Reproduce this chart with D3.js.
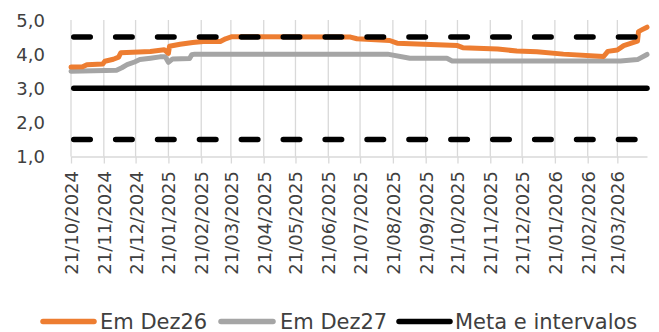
<!DOCTYPE html>
<html>
<head>
<meta charset="utf-8">
<script src="https://cdn.jsdelivr.net/npm/d3@7"></script>
<style>
  html, body { margin: 0; padding: 0; background: #fff; }
  svg { display: block; }
  text { font-family: "DejaVu Sans", sans-serif; fill: #404040; }
</style>
</head>
<body>
<svg id="chart" width="659" height="332"></svg>
<script>
// ---- Data ----
const tickLabels = ["21/10/2024","21/11/2024","21/12/2024","21/01/2025","21/02/2025","21/03/2025",
  "21/04/2025","21/05/2025","21/06/2025","21/07/2025","21/08/2025","21/09/2025","21/10/2025",
  "21/11/2025","21/12/2025","21/01/2026","21/02/2026","21/03/2026"];
const yTicks = [1, 2, 3, 4, 5];

const dez26Dates = ["2024-10-21","2024-11-01","2024-11-05","2024-11-20","2024-11-22","2024-11-30",
  "2024-12-05","2024-12-07","2025-01-04","2025-01-17","2025-01-21","2025-01-22","2025-02-01",
  "2025-02-13","2025-02-23","2025-03-11","2025-03-16","2025-03-22","2025-07-12","2025-07-18",
  "2025-08-18","2025-08-25","2025-10-21","2025-10-26","2025-11-28","2025-12-16","2026-01-04",
  "2026-01-29","2026-03-08","2026-03-12","2026-03-21","2026-03-27","2026-04-09","2026-04-10",
  "2026-04-13","2026-04-18"];
const dez26Values = [3.62,3.63,3.69,3.71,3.79,3.85,3.91,4.04,4.08,4.13,4.02,4.23,4.29,4.34,4.37,
  4.37,4.45,4.51,4.50,4.45,4.40,4.32,4.25,4.19,4.15,4.09,4.07,4.00,3.93,4.08,4.12,4.25,4.38,4.66,
  4.71,4.79];

const dez27Dates = ["2024-10-21","2024-12-03","2024-12-08","2024-12-13","2024-12-20","2024-12-25",
  "2025-01-04","2025-01-13","2025-01-18","2025-01-21","2025-01-25","2025-02-10","2025-02-12",
  "2025-02-15","2025-08-16","2025-09-06","2025-10-11","2025-10-16","2026-03-24","2026-04-09",
  "2026-04-18"];
const dez27Values = [3.50,3.53,3.60,3.69,3.77,3.84,3.88,3.92,3.92,3.76,3.86,3.87,3.98,4.00,4.00,
  3.88,3.88,3.80,3.80,3.84,3.99];

const metaCenter = 3.0;
const metaBands = [4.5, 1.5];
const domainStart = "2024-10-21";
const domainEnd = "2026-04-18";

const seriesNames = ["Em Dez26", "Em Dez27", "Meta e intervalos"];
const colors = ["#ED7D31", "#A5A5A5", "#000000"];

// ---- Layout ----
const svg = d3.select("#chart");
const mLeft = 71, mRight = 647, mTop = 20, mBottom = 156.5;
const parseISO = d3.timeParse("%Y-%m-%d");
const parseBR = d3.timeParse("%d/%m/%Y");
const fmtBR = d3.timeFormat("%d/%m/%Y");

const x = d3.scaleTime().domain([parseISO(domainStart), parseISO(domainEnd)]).range([mLeft, mRight]);
const y = d3.scaleLinear().domain([1, 5]).range([mBottom, mTop]);

const tickDates = tickLabels.map(parseBR);

// vertical gridlines
svg.append("g").selectAll("line").data(tickDates).join("line")
  .attr("x1", d => x(d)).attr("x2", d => x(d))
  .attr("y1", mTop).attr("y2", mBottom)
  .attr("stroke", "#d9d9d9").attr("stroke-width", 1.3);

// x axis
const xAxis = d3.axisBottom(x).tickValues(tickDates).tickFormat(fmtBR).tickSizeInner(7).tickSizeOuter(0);
const gx = svg.append("g").attr("transform", `translate(0,${mBottom})`).call(xAxis);
gx.select(".domain").attr("stroke", "#d9d9d9").attr("stroke-width", 1.3);
gx.selectAll(".tick line").attr("stroke", "#d9d9d9").attr("stroke-width", 1.3);
gx.selectAll(".tick text")
  .attr("font-size", 18)
  .attr("font-family", "DejaVu Sans")
  .attr("fill", "#404040")
  .attr("transform", "rotate(-90)")
  .attr("text-anchor", "end")
  .attr("x", -14.5)
  .attr("y", 0)
  .attr("dy", "0.36em");

// y axis labels
const yAxis = d3.axisLeft(y).tickValues(yTicks).tickFormat(d => d3.format(".1f")(d).replace(".", ",")).tickSize(0);
const gy = svg.append("g").attr("transform", `translate(45,0)`).call(yAxis);
gy.select(".domain").remove();
gy.selectAll(".tick text").attr("font-size", 18).attr("font-family", "DejaVu Sans")
  .attr("fill", "#404040").attr("x", 0).attr("dy", "0.36em");

// meta lines
svg.append("line")
  .attr("x1", x.range()[0] + 2.75).attr("x2", x.range()[1])
  .attr("y1", y(metaCenter)).attr("y2", y(metaCenter))
  .attr("stroke", colors[2]).attr("stroke-width", 5.5).attr("stroke-linecap", "round");

// series lines
const line = d3.line().x(d => x(d[0])).y(d => y(d[1]));
function pts(dates, vals) { return dates.map((d, i) => [parseISO(d), vals[i]]); }

svg.append("path").datum(pts(dez27Dates, dez27Values))
  .attr("d", line).attr("fill", "none").attr("stroke", colors[1])
  .attr("stroke-width", 5).attr("stroke-linejoin", "round").attr("stroke-linecap", "round");
svg.append("path").datum(pts(dez26Dates, dez26Values))
  .attr("d", line).attr("fill", "none").attr("stroke", colors[0])
  .attr("stroke-width", 5).attr("stroke-linejoin", "round").attr("stroke-linecap", "round");

svg.append("g").selectAll("line").data(metaBands).join("line")
  .attr("x1", x.range()[0]).attr("x2", x.range()[1])
  .attr("y1", d => y(d)).attr("y2", d => y(d))
  .attr("stroke", colors[2]).attr("stroke-width", 5.5).attr("stroke-linecap", "round")
  .attr("stroke-dasharray", "16.5,25.4").attr("stroke-dashoffset", -2.75);

// legend
const legendY = 321.5;
const legendItems = [
  {sx1: 43, sx2: 94, tx: 100},
  {sx1: 221, sx2: 273, tx: 280},
  {sx1: 399, sx2: 450, tx: 455}
];
const lg = svg.append("g");
legendItems.forEach((it, i) => {
  lg.append("line").attr("x1", it.sx1).attr("x2", it.sx2).attr("y1", legendY).attr("y2", legendY)
    .attr("stroke", colors[i]).attr("stroke-width", 5.5).attr("stroke-linecap", "round");
  lg.append("text").attr("x", it.tx).attr("y", 328.5).attr("font-size", 21).text(seriesNames[i]);
});
</script>
</body>
</html>
